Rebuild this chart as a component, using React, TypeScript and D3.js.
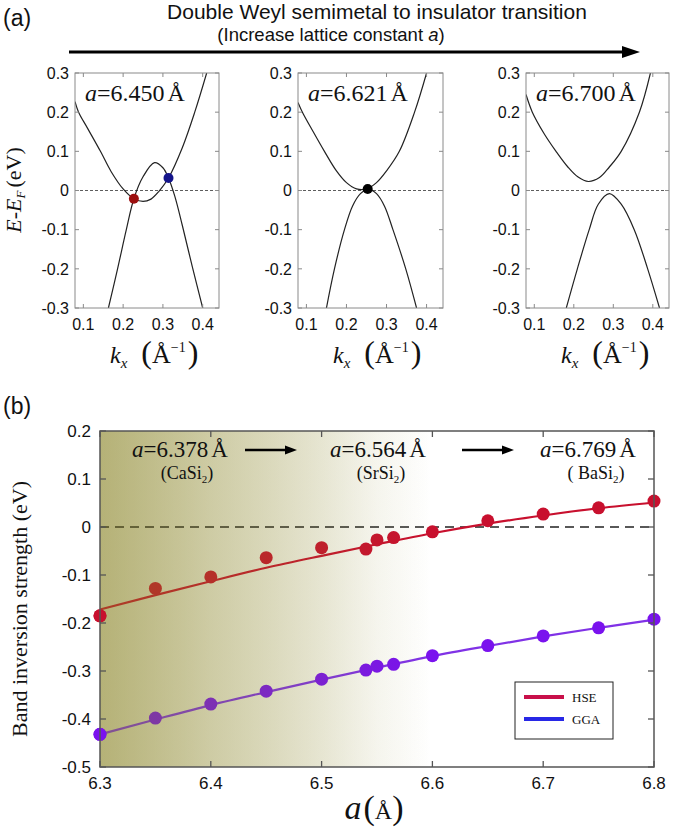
import React from "react";
import * as d3 from "d3";

// ---------- DATA ----------
// Panel (a): band structures, [k (1/Å), E-EF (eV)]
const kTicks = [0.1, 0.2, 0.3, 0.4];
const eTicks = [0.3, 0.2, 0.1, 0, -0.1, -0.2, -0.3];
const latticeLabels = ["6.450", "6.621", "6.700"];

const band1Upper: [number, number][] = [
  [0.079, 0.227], [0.088, 0.2], [0.11, 0.16], [0.143, 0.1], [0.17, 0.048], [0.2, 0.004],
  [0.227, -0.021], [0.25, -0.028], [0.27, -0.022], [0.29, -0.002], [0.314, 0.032],
  [0.349, 0.11], [0.38, 0.2], [0.41, 0.3],
];
const band1Lower: [number, number][] = [
  [0.163, -0.3], [0.186, -0.2], [0.208, -0.1], [0.227, -0.021], [0.25, 0.035],
  [0.279, 0.071], [0.3, 0.058], [0.314, 0.032], [0.33, -0.015], [0.349, -0.09],
  [0.374, -0.195], [0.4, -0.3],
];
const band2Upper: [number, number][] = [
  [0.079, 0.225], [0.09, 0.2], [0.117, 0.15], [0.145, 0.1], [0.175, 0.05], [0.2, 0.02],
  [0.225, 0.004], [0.25, 0.004], [0.275, 0.02], [0.3, 0.05], [0.332, 0.1],
  [0.37, 0.2], [0.4, 0.3],
];
const band2Lower: [number, number][] = [
  [0.15, -0.3], [0.17, -0.2], [0.195, -0.1], [0.215, -0.04], [0.235, -0.008],
  [0.255, 0.003], [0.275, -0.008], [0.295, -0.04], [0.316, -0.1], [0.348, -0.2], [0.375, -0.3],
];
const band3Upper: [number, number][] = [
  [0.079, 0.245], [0.095, 0.2], [0.125, 0.145], [0.155, 0.1], [0.185, 0.06], [0.21, 0.035],
  [0.237, 0.023], [0.265, 0.033], [0.29, 0.06], [0.32, 0.1], [0.366, 0.2], [0.394, 0.3],
];
const band3Lower: [number, number][] = [
  [0.181, -0.3], [0.209, -0.2], [0.239, -0.1], [0.262, -0.035], [0.29, -0.008],
  [0.32, -0.035], [0.353, -0.1], [0.387, -0.2], [0.417, -0.3],
];
const band1Dots: [number, number, string][] = [
  [0.227, -0.021, "#9c0f0f"],
  [0.314, 0.032, "#14148a"],
];
const band2Dots: [number, number, string][] = [[0.253, 0.004, "#000000"]];
const band3Dots: [number, number, string][] = [];

// Panel (b): band inversion strength vs lattice constant
const aTicks = [6.3, 6.4, 6.5, 6.6, 6.7, 6.8];
const strengthTicks = [0.2, 0.1, 0, -0.1, -0.2, -0.3, -0.4, -0.5];
const aValues = [6.3, 6.35, 6.4, 6.45, 6.5, 6.54, 6.55, 6.565, 6.6, 6.65, 6.7, 6.75, 6.8];
const hseValues = [-0.185, -0.128, -0.104, -0.064, -0.043, -0.046, -0.027, -0.022, -0.01, 0.013, 0.027, 0.04, 0.054];
const ggaValues = [-0.432, -0.398, -0.369, -0.342, -0.317, -0.298, -0.29, -0.286, -0.268, -0.247, -0.227, -0.21, -0.192];
const fitA = [6.3, 6.35, 6.4, 6.45, 6.5, 6.55, 6.6, 6.65, 6.7, 6.75, 6.8];
const hseFit = [-0.172, -0.142, -0.113, -0.085, -0.06, -0.036, -0.013, 0.007, 0.024, 0.039, 0.051];
const ggaFit = [-0.432, -0.401, -0.371, -0.344, -0.318, -0.293, -0.269, -0.248, -0.228, -0.21, -0.193];
const compounds = [
  { a: "6.378", name: "CaSi", pre: "(" },
  { a: "6.564", name: "SrSi", pre: "(" },
  { a: "6.769", name: "BaSi", pre: "( " },
];
const legendItems = [
  { name: "HSE", color: "#c8104a" },
  { name: "GGA", color: "#2828e6" },
];
// shading (olive) opacity along a
const shadeA = [6.3, 6.4, 6.5, 6.55, 6.6];
const shadeAlpha = [0.6, 0.4, 0.2, 0.08, 0];

// ---------- STYLE ----------
const SANS = "'Liberation Sans', Arial, sans-serif";
const SERIF = "'Liberation Serif', 'Times New Roman', serif";
const fmt = (v: number) => `${+v.toFixed(1)}`;

function BandPanel({ id, x0, x1, upper, lower, dots, label }: any) {
  const top = 73, bottom = 308;
  const xs = d3.scaleLinear().domain([0.079, 0.441]).range([x0, x1]);
  const ys = d3.scaleLinear().domain([-0.3, 0.3]).range([bottom, top]);
  const line = d3
    .line<[number, number]>()
    .x((d) => xs(d[0]))
    .y((d) => ys(d[1]))
    .curve(d3.curveCatmullRom.alpha(0.5));
  const tk = 4;
  return (
    <g>
      <clipPath id={id}>
        <rect x={x0} y={top} width={x1 - x0} height={bottom - top} />
      </clipPath>
      <line x1={x0} x2={x1} y1={ys(0)} y2={ys(0)} stroke="#333" strokeWidth={0.8} strokeDasharray="3 2" />
      <g clipPath={`url(#${id})`}>
        <path d={line(upper) || ""} fill="none" stroke="#222" strokeWidth={1.2} />
        <path d={line(lower) || ""} fill="none" stroke="#222" strokeWidth={1.2} />
      </g>
      {dots.map((d: any, i: number) => (
        <circle key={i} cx={xs(d[0])} cy={ys(d[1])} r={5} fill={d[2]} />
      ))}
      <rect x={x0} y={top} width={x1 - x0} height={bottom - top} fill="none" stroke="#8a8a8a" strokeWidth={1} />
      {kTicks.map((k) => (
        <g key={k}>
          <line x1={xs(k)} x2={xs(k)} y1={bottom} y2={bottom - tk} stroke="#8a8a8a" />
          <line x1={xs(k)} x2={xs(k)} y1={top} y2={top + tk} stroke="#8a8a8a" />
          <text x={xs(k)} y={330} textAnchor="middle" fontFamily={SANS} fontSize={16} fill="#111">
            {fmt(k)}
          </text>
        </g>
      ))}
      {eTicks.map((e) => (
        <g key={e}>
          <line x1={x0} x2={x0 + tk} y1={ys(e)} y2={ys(e)} stroke="#8a8a8a" />
          <line x1={x1} x2={x1 - tk} y1={ys(e)} y2={ys(e)} stroke="#8a8a8a" />
          <text x={x0 - 6} y={ys(e)} dy="0.36em" textAnchor="end" fontFamily={SANS} fontSize={16} fill="#111">
            {fmt(e)}
          </text>
        </g>
      ))}
      <text x={x0 + 10} y={101} fontFamily={SERIF} fontSize={24} fill="#111">
        <tspan fontStyle="italic">a</tspan>
        <tspan>=</tspan>
        <tspan>{label}</tspan>
        <tspan dx={3}>Å</tspan>
      </text>
      <text x={x0 + 35} y={363} fontFamily={SERIF} fontSize={24} fill="#111">
        <tspan fontStyle="italic">k</tspan>
        <tspan fontStyle="italic" fontSize={15} dy={5}>x</tspan>
        <tspan dx={14} dy={-5} fontSize={32}>(</tspan>
        <tspan fontSize={26}>Å</tspan>
        <tspan fontSize={14} dy={-11}>−1</tspan>
        <tspan fontSize={32} dy={11} dx={2}>)</tspan>
      </text>
    </g>
  );
}

export default function App() {
  const W = 674, H = 828;
  // panel (b)
  const L = 100, R = 654, T = 431, B = 767;
  const xb = d3.scaleLinear().domain([6.3, 6.8]).range([L, R]);
  const yb = d3.scaleLinear().domain([-0.5, 0.2]).range([B, T]);
  const fitLine = d3
    .line<[number, number]>()
    .x((d) => xb(d[0]))
    .y((d) => yb(d[1]))
    .curve(d3.curveMonotoneX);
  const hseFitPts = fitA.map((a, i) => [a, hseFit[i]] as [number, number]);
  const ggaFitPts = fitA.map((a, i) => [a, ggaFit[i]] as [number, number]);
  const hseColor = "#c8102e";
  const ggaLine = "#8032e6";
  const ggaDot = "#7a12ee";
  const shadeRGB = "rgb(132,126,28)";
  const ovFactor = 0.7;
  const stops = shadeA.map((a, i) => {
    const t = shadeAlpha[i];
    const ov = ovFactor * t;
    const bg = 1 - (1 - t) / (1 - ov);
    return { off: (a - 6.3) / (6.6 - 6.3), ov, bg };
  });
  const tk = 6;

  return (
    <svg width={W} height={H} style={{ position: "absolute", left: 0, top: 0, background: "#fff" }}>
      <defs>
        <linearGradient id="shadeBg" gradientUnits="userSpaceOnUse" x1={xb(6.3)} x2={xb(6.6)} y1={0} y2={0}>
          {stops.map((s, i) => (
            <stop key={i} offset={s.off} stopColor={shadeRGB} stopOpacity={s.bg} />
          ))}
        </linearGradient>
        <linearGradient id="shadeOv" gradientUnits="userSpaceOnUse" x1={xb(6.3)} x2={xb(6.6)} y1={0} y2={0}>
          {stops.map((s, i) => (
            <stop key={i} offset={s.off} stopColor={shadeRGB} stopOpacity={s.ov} />
          ))}
        </linearGradient>
        <clipPath id="frameB">
          <rect x={L} y={T} width={R - L} height={B - T} />
        </clipPath>
      </defs>

      {/* ---------- Panel (a) header ---------- */}
      <text x={3} y={26} fontFamily={SANS} fontSize={23} fill="#111">(a)</text>
      <text x={377} y={19} textAnchor="middle" fontFamily={SANS} fontSize={21} fill="#111">
        Double Weyl semimetal to insulator transition
      </text>
      <text x={331} y={41} textAnchor="middle" fontFamily={SANS} fontSize={18.5} fill="#111">
        (Increase lattice constant <tspan fontStyle="italic">a</tspan>)
      </text>
      <line x1={69} x2={626} y1={52} y2={52} stroke="#000" strokeWidth={3} />
      <polygon points="622,46 640,52 622,58" fill="#000" />

      <BandPanel id="p1" x0={75} x1={219} upper={band1Upper} lower={band1Lower} dots={band1Dots} label={latticeLabels[0]} />
      <BandPanel id="p2" x0={298} x1={443} upper={band2Upper} lower={band2Lower} dots={band2Dots} label={latticeLabels[1]} />
      <BandPanel id="p3" x0={526} x1={669} upper={band3Upper} lower={band3Lower} dots={band3Dots} label={latticeLabels[2]} />

      <text transform="translate(21,190) rotate(-90)" textAnchor="middle" fontFamily={SERIF} fontSize={22} fill="#111">
        <tspan fontStyle="italic">E</tspan>
        <tspan>-</tspan>
        <tspan fontStyle="italic">E</tspan>
        <tspan fontStyle="italic" fontSize={13} dy={4}>F</tspan>
        <tspan dy={-4} dx={3}>(eV)</tspan>
      </text>

      {/* ---------- Panel (b) ---------- */}
      <text x={3} y={414} fontFamily={SANS} fontSize={23} fill="#111">(b)</text>
      <rect x={L} y={T} width={R - L} height={B - T} fill="url(#shadeBg)" />
      <g clipPath="url(#frameB)">
        <line x1={L} x2={R} y1={yb(0)} y2={yb(0)} stroke="#222" strokeWidth={1.6} strokeDasharray="9 6" />
      </g>
      <path d={fitLine(hseFitPts) || ""} fill="none" stroke={hseColor} strokeWidth={2.2} />
      <path d={fitLine(ggaFitPts) || ""} fill="none" stroke={ggaLine} strokeWidth={2.2} />
      {aValues.map((a, i) => (
        <circle key={"h" + i} cx={xb(a)} cy={yb(hseValues[i])} r={6.5} fill={hseColor} />
      ))}
      {aValues.map((a, i) => (
        <circle key={"g" + i} cx={xb(a)} cy={yb(ggaValues[i])} r={6.5} fill={ggaDot} />
      ))}
      <rect x={L} y={T} width={R - L} height={B - T} fill="url(#shadeOv)" />
      {/* boundary points at the domain edge drawn above the tint */}
      {aValues.map((a, i) =>
        a === 6.3 ? (
          <g key={"e" + i}>
            <circle cx={xb(a)} cy={yb(hseValues[i])} r={6.5} fill={hseColor} />
            <circle cx={xb(a)} cy={yb(ggaValues[i])} r={6.5} fill={ggaDot} />
          </g>
        ) : null
      )}
      <rect x={L} y={T} width={R - L} height={B - T} fill="none" stroke="#555" strokeWidth={1.5} />
      {aTicks.map((a) => (
        <g key={a}>
          <line x1={xb(a)} x2={xb(a)} y1={B} y2={B - tk} stroke="#555" strokeWidth={1.3} />
          <line x1={xb(a)} x2={xb(a)} y1={T} y2={T + tk} stroke="#555" strokeWidth={1.3} />
          <text x={xb(a)} y={789} textAnchor="middle" fontFamily={SANS} fontSize={17} fill="#111">
            {fmt(a)}
          </text>
        </g>
      ))}
      {strengthTicks.map((s) => (
        <g key={s}>
          <line x1={L} x2={L + tk} y1={yb(s)} y2={yb(s)} stroke="#555" strokeWidth={1.3} />
          <line x1={R} x2={R - tk} y1={yb(s)} y2={yb(s)} stroke="#555" strokeWidth={1.3} />
          <text x={91} y={yb(s)} dy="0.36em" textAnchor="end" fontFamily={SANS} fontSize={17} fill="#111">
            {fmt(s)}
          </text>
        </g>
      ))}

      {/* compound annotations */}
      {compounds.map((c, i) => {
        const cx = [180, 378, 588][i];
        return (
          <g key={c.name}>
            <text x={cx} y={457} textAnchor="middle" fontFamily={SERIF} fontSize={23} fill="#111">
              <tspan fontStyle="italic">a</tspan>
              <tspan>=</tspan>
              <tspan>{c.a}</tspan>
              <tspan dx={3}>Å</tspan>
            </text>
            <text x={[187, 381, 596][i]} y={479} textAnchor="middle" fontFamily={SERIF} fontSize={18} fill="#111">
              <tspan>{c.pre + c.name}</tspan>
              <tspan fontSize={11} dy={4}>2</tspan>
              <tspan dy={-4}>)</tspan>
            </text>
          </g>
        );
      })}
      {[
        [245, 297],
        [462, 514],
      ].map(([a, b], i) => (
        <g key={"arr" + i}>
          <line x1={a} x2={b - 8} y1={450} y2={450} stroke="#000" strokeWidth={2.5} />
          <polygon points={`${b - 12},445.5 ${b},450 ${b - 12},454.5`} fill="#000" />
        </g>
      ))}

      {/* legend */}
      <rect x={515} y={682} width={98} height={57} fill="#fff" stroke="#222" strokeWidth={1} />
      {legendItems.map((d, i) => (
        <g key={d.name}>
          <line x1={524} x2={564} y1={697 + i * 22} y2={697 + i * 22} stroke={d.color} strokeWidth={4} />
          <text x={572} y={697 + i * 22} dy="0.35em" fontFamily={SERIF} fontSize={13} fill="#111">
            {d.name}
          </text>
        </g>
      ))}

      {/* axis labels */}
      <text transform="translate(27,609) rotate(-90)" textAnchor="middle" fontFamily={SERIF} fontSize={22} fill="#111">
        Band inversion strength (eV)
      </text>
      <text x={374} y={819} textAnchor="middle" fontFamily={SERIF} fontSize={34} fill="#111">
        <tspan fontStyle="italic">a</tspan>
        <tspan fontSize={34} dx={2}>(</tspan>
        <tspan fontSize={24}>Å</tspan>
        <tspan fontSize={34}>)</tspan>
      </text>
    </svg>
  );
}
